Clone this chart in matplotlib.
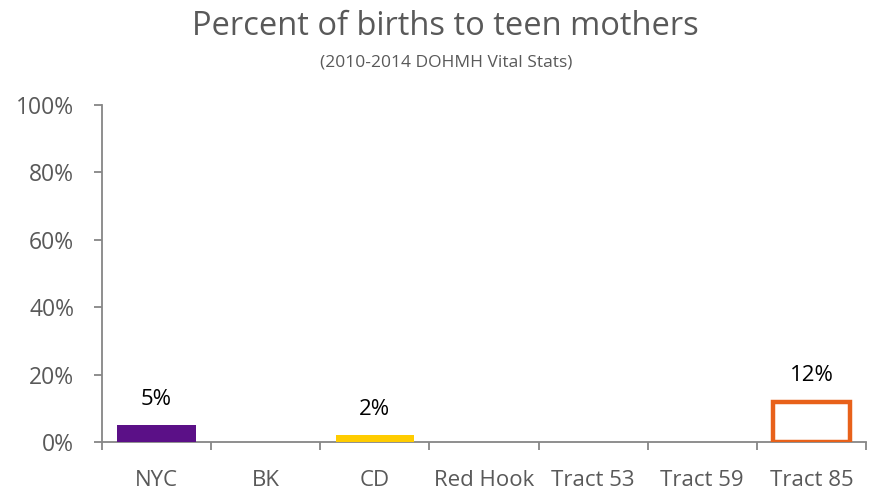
import numpy as np
import matplotlib.pyplot as plt

categories = ['NYC', 'BK', 'CD', 'Red Hook', 'Tract 53', 'Tract 59', 'Tract 85']
values = [5, 0, 2, 0, 0, 0, 12]
labels = ['5%', '', '2%', '', '', '', '12%']
yticks = [0, 20, 40, 60, 80, 100]

plt.rcParams['font.family'] = ['Open Sans', 'DejaVu Sans']

fig = plt.figure(figsize=(8.74, 4.9), dpi=100)
ax = fig.add_axes([0.1167, 0.098, 0.8741, 0.6877])

x = np.arange(len(categories))
fills = ['#5B1087', 'none', '#FFCC00', 'none', 'none', 'none', 'white']
edges = ['none', 'none', 'none', 'none', 'none', 'none', '#E8611A']
lws = [0, 0, 0, 0, 0, 0, 3.2]
for xi, v, fc, ec, lw, lab in zip(x, values, fills, edges, lws, labels):
    if v > 0:
        ax.bar(xi, v, width=0.72 if lw == 0 else 0.70, color=fc, edgecolor=ec,
               linewidth=lw, zorder=3)
    if lab:
        ax.text(xi, v + 4.5, lab, ha='center', va='bottom', fontsize=16,
                color='black')

ax.set_xlim(-0.5, len(categories) - 0.5)
ax.set_ylim(0, 100)
ax.set_yticks(yticks)
ax.set_yticklabels([f'{t}%' for t in yticks])
ax.set_xticks(x)
ax.set_xticklabels(categories)
ax.set_xticks(np.arange(len(categories) + 1) - 0.5, minor=True)
ax.tick_params(axis='x', which='major', length=0, pad=20, labelsize=16,
               labelcolor='#595959')
ax.tick_params(axis='x', which='minor', length=6, width=1.3, color='#868686')
ax.tick_params(axis='y', length=6, width=1.3, color='#868686', pad=14,
               labelsize=16.5, labelcolor='#595959')

for s in ['top', 'right']:
    ax.spines[s].set_visible(False)
for s in ['left', 'bottom']:
    ax.spines[s].set_color('#868686')
    ax.spines[s].set_linewidth(1.3)

fig.text(0.51, 0.945, 'Percent of births to teen mothers', ha='center',
         va='center', fontsize=23.5, color='#595959')
fig.text(0.51, 0.873, '(2010-2014 DOHMH Vital Stats)', ha='center',
         va='center', fontsize=12.5, color='#595959')

fig.savefig('out.png', dpi=100)
